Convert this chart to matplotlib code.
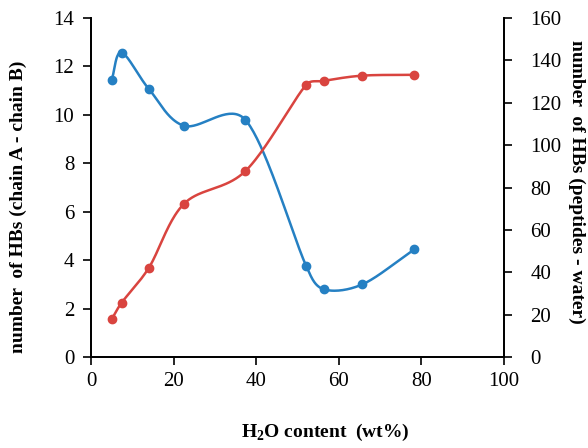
import numpy as np
import matplotlib
matplotlib.use("Agg")
import matplotlib.pyplot as plt

# ── data ───────────────────────────────────────────────────────────────────────
water_wt = [5.0, 7.4, 14.0, 22.5, 37.4, 52.1, 56.3, 65.7, 78.3]
hb_chains = [11.45, 12.57, 11.07, 9.55, 9.79, 3.76, 2.80, 3.00, 4.45]
hb_water = [17.8, 25.6, 42.1, 72.3, 87.8, 128.5, 130.3, 132.8, 133.2]

x_ticks = [0, 20, 40, 60, 80, 100]
left_ticks = [0, 2, 4, 6, 8, 10, 12, 14]
right_ticks = [0, 20, 40, 60, 80, 100, 120, 140, 160]

BLUE = "#2580c3"
RED = "#d9443f"

plt.rcParams["font.family"] = ["Liberation Serif", "DejaVu Serif"]
plt.rcParams["mathtext.fontset"] = "custom"
plt.rcParams["mathtext.rm"] = "Liberation Serif:bold"
plt.rcParams["mathtext.bf"] = "Liberation Serif:bold"

# axes size in pixels, used to smooth in screen-like space
AX_W, AX_H = 413.0, 339.0


def smooth(x, y, xmax, ymax, n=40, clamp=0.4):
    """Excel-like smoothed line: Bezier with (p2-p0)/6 handles, clamped on short segments."""
    P = np.column_stack([np.asarray(x, float) / xmax * AX_W,
                         np.asarray(y, float) / ymax * AX_H])
    m = len(P)
    t = np.linspace(0, 1, n)[:, None]

    def limit(h, seg_len):
        L = np.linalg.norm(h)
        if L > clamp * seg_len:
            h = h * clamp * seg_len / L
        return h

    out = []
    for i in range(m - 1):
        p1, p2 = P[i], P[i + 1]
        dl = np.linalg.norm(p2 - p1)
        h1 = (p2 - P[i - 1]) / 6 if i > 0 else (p2 - p1) / 3
        h2 = (P[i + 2] - p1) / 6 if i + 2 < m else (p2 - p1) / 3
        c1 = p1 + limit(h1, dl)
        c2 = p2 - limit(h2, dl)
        seg = ((1 - t) ** 3 * p1 + 3 * (1 - t) ** 2 * t * c1
               + 3 * (1 - t) * t ** 2 * c2 + t ** 3 * p2)
        out.append(seg)
    out = np.vstack(out)
    return out[:, 0] / AX_W * xmax, out[:, 1] / AX_H * ymax


fig = plt.figure(figsize=(5.88, 4.48), dpi=100)
ax = fig.add_axes([0.1548, 0.2031, 0.7024, 0.7567])
ax2 = ax.twinx()

sx, sy = smooth(water_wt, hb_chains, 100, 14)
ax.plot(sx, sy, color=BLUE, lw=1.8, zorder=3)
ax.plot(water_wt, hb_chains, "o", color=BLUE, ms=6, zorder=4)

rx, ry = smooth(water_wt, hb_water, 100, 160)
ax2.plot(rx, ry, color=RED, lw=1.8, zorder=3)
ax2.plot(water_wt, hb_water, "o", color=RED, ms=6, zorder=4)

ax.set_xlim(0, 100)
ax.set_ylim(0, 14)
ax2.set_ylim(0, 160)
ax.set_xticks(x_ticks)
ax.set_yticks(left_ticks)
ax2.set_yticks(right_ticks)

for a in (ax, ax2):
    a.spines["top"].set_visible(False)
    for s in a.spines.values():
        s.set_linewidth(1.3)
    a.tick_params(direction="out", length=6, width=1.2, labelsize=15)
ax.tick_params(axis="y", pad=6)
ax.tick_params(axis="x", pad=5)
ax2.tick_params(axis="y", pad=13)

ax.set_xlabel(r"H$_\mathbf{2}$O content  (wt%)", fontsize=14, fontweight="bold",
              va="center")
ax.xaxis.set_label_coords(0.567, -0.222)
ax.set_ylabel(r"number  of HBs (chain A - chain B)", fontsize=14, fontweight="bold",
              va="center")
ax.yaxis.set_label_coords(-0.175, 0.442)
ax2.set_ylabel(r"number  of HBs (peptides - water)", fontsize=14, fontweight="bold",
               rotation=270, va="center")
ax2.yaxis.set_label_coords(1.177, 0.516)

fig.savefig("out.png", dpi=100)
